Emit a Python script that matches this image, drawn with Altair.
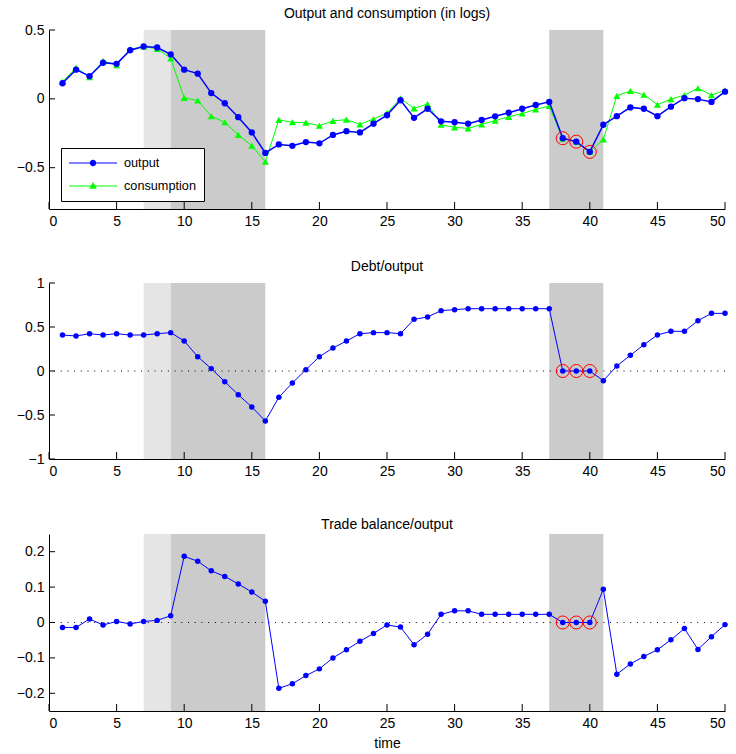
import altair as alt
import pandas as pd

# ---- data -------------------------------------------------------------
periods = list(range(1, 51))

output = [0.113, 0.212, 0.165, 0.262, 0.254, 0.353, 0.380, 0.373, 0.323, 0.212,
          0.183, 0.042, -0.032, -0.133, -0.244, -0.393, -0.331, -0.341, -0.314, -0.323,
          -0.262, -0.235, -0.244, -0.180, -0.119, -0.010, -0.138, -0.072, -0.163, -0.170,
          -0.180, -0.153, -0.127, -0.101, -0.072, -0.044, -0.022, -0.286, -0.311, -0.385,
          -0.188, -0.126, -0.062, -0.072, -0.126, -0.057, 0.005, -0.002, -0.022, 0.052]

consumption = [0.124, 0.227, 0.158, 0.276, 0.244, 0.360, 0.380, 0.363, 0.294, 0.007,
               -0.012, -0.126, -0.170, -0.262, -0.341, -0.457, -0.153, -0.170, -0.173, -0.195,
               -0.160, -0.151, -0.185, -0.146, -0.104, 0.003, -0.069, -0.037, -0.188, -0.207,
               -0.215, -0.185, -0.158, -0.131, -0.106, -0.077, -0.052, -0.290, -0.311, -0.385,
               -0.294, 0.022, 0.057, 0.030, -0.042, -0.002, 0.027, 0.077, 0.027, 0.062]

debt_output = [0.409, 0.398, 0.424, 0.409, 0.424, 0.409, 0.409, 0.424, 0.436, 0.341,
               0.163, 0.027, -0.121, -0.269, -0.409, -0.568, -0.299, -0.136, 0.015, 0.163,
               0.261, 0.341, 0.424, 0.436, 0.436, 0.424, 0.587, 0.614, 0.686, 0.697,
               0.708, 0.708, 0.708, 0.708, 0.708, 0.708, 0.708, 0.0, 0.0, 0.0,
               -0.110, 0.057, 0.178, 0.299, 0.409, 0.451, 0.451, 0.572, 0.655, 0.655]

trade_balance = [-0.014, -0.014, 0.010, -0.007, 0.003, -0.004, 0.003, 0.006, 0.019, 0.187,
                 0.173, 0.146, 0.130, 0.109, 0.086, 0.060, -0.186, -0.173, -0.150, -0.131,
                 -0.100, -0.077, -0.053, -0.031, -0.007, -0.013, -0.063, -0.033, 0.023, 0.033,
                 0.033, 0.023, 0.023, 0.023, 0.023, 0.023, 0.023, 0.0, 0.0, 0.0,
                 0.094, -0.146, -0.117, -0.096, -0.077, -0.049, -0.017, -0.076, -0.040, -0.006]

default_periods = [38, 39, 40]

light_start = [7]
light_end = [9]
dark_start = [9, 37]
dark_end = [16, 41]

series_names = ["output", "consumption"]

x_ticks = [0, 5, 10, 15, 20, 25, 30, 35, 40, 45, 50]
top_ticks = [-0.5, 0, 0.5]
mid_ticks = [-1, -0.5, 0, 0.5, 1]
bot_ticks = [-0.2, -0.1, 0, 0.1, 0.2]

# ---- style ------------------------------------------------------------
FONT = "Liberation Sans"
W = 676
BLUE = "#0000ff"
GREEN = "#00ff00"
RED = "#ff0000"
LIGHT = "#e5e5e5"
DARK = "#cbcbcb"

# legend glyphs: a short line with the marker in the middle
SYM_OUT = ("M-1,-0.022L-0.13,-0.022L-0.13,0.022L-1,0.022Z "
           "M0.13,-0.022L1,-0.022L1,0.022L0.13,0.022Z "
           "M0.135,0A0.135,0.135 0 1,1 -0.135,0A0.135,0.135 0 1,1 0.135,0Z")
SYM_CONS = ("M-1,-0.02L1,-0.02L1,0.02L-1,0.02Z "
            "M0,-0.17L0.16,0.115L-0.16,0.115Z")


def frame(values):
    return pd.DataFrame({"t": periods, "v": values})


def panel(title, height, ydomain, yticks, series, zero_line, xtitle=None, legend=False):
    xs = alt.Scale(domain=[0, 50], nice=False, zero=False)
    ys = alt.Scale(domain=ydomain, nice=False, zero=False)
    xaxis = alt.Axis(values=x_ticks, format="d", title=xtitle)
    yaxis = alt.Axis(values=yticks, format="~g", title=None)

    def X(f):
        return alt.X(f, scale=xs, axis=xaxis, title=xtitle)

    def Y(f):
        return alt.Y(f, scale=ys, axis=yaxis, title=None)

    layers = []
    light = alt.Chart(pd.DataFrame({"a": light_start, "b": light_end})).mark_rect(
        color=LIGHT).encode(x=X("a:Q"), x2="b:Q", y=alt.value(0), y2=alt.value(height))
    dark = alt.Chart(pd.DataFrame({"a": dark_start, "b": dark_end})).mark_rect(
        color=DARK).encode(x=X("a:Q"), x2="b:Q", y=alt.value(0), y2=alt.value(height))
    layers += [light, dark]

    if zero_line:
        layers.append(
            alt.Chart(pd.DataFrame({"z": [0]})).mark_rule(
                color="black", strokeWidth=1, strokeDash=[1, 5.7]
            ).encode(y=Y("z:Q"))
        )

    for values, color, shape, size, lw in series:
        df = frame(values)
        layers.append(alt.Chart(df).mark_line(color=color, strokeWidth=lw).encode(
            x=X("t:Q"), y=Y("v:Q")))
        layers.append(alt.Chart(df).mark_point(
            filled=True, shape=shape, size=size, color=color, opacity=1
        ).encode(x=X("t:Q"), y=Y("v:Q")))

    # red rings around the default periods of the main series
    main = series[-1][0]
    ring_df = pd.DataFrame({"t": default_periods,
                            "v": [main[p - 1] for p in default_periods]})
    layers.append(alt.Chart(ring_df).mark_point(
        shape="circle", size=170, color=RED, strokeWidth=1, filled=False, opacity=1
    ).encode(x=X("t:Q"), y=Y("v:Q")))

    # inward-pointing tick marks
    layers.append(alt.Chart(pd.DataFrame({"t": x_ticks})).mark_rule(
        color="black", strokeWidth=1).encode(
        x=X("t:Q"), y=alt.value(height), y2=alt.value(height - 7)))
    layers.append(alt.Chart(pd.DataFrame({"v": yticks})).mark_rule(
        color="black", strokeWidth=1).encode(
        y=Y("v:Q"), x=alt.value(0), x2=alt.value(6)))

    if legend:
        leg = alt.Legend(
            title=None, orient="none", legendX=12, legendY=118,
            strokeColor="black", fillColor="white", padding=8, cornerRadius=0,
            labelFont=FONT, labelFontSize=12.7, labelColor="black", labelOffset=7,
            symbolSize=2304, symbolStrokeWidth=0, rowPadding=9, clipHeight=14,
        )
        layers.append(
            alt.Chart(pd.DataFrame({"series": series_names}))
            .transform_filter("false")
            .mark_point(filled=True, opacity=1)
            .encode(
                x=X("t:Q"), y=Y("v:Q"),
                color=alt.Color("series:N", legend=leg,
                                scale=alt.Scale(domain=series_names, range=[BLUE, GREEN])),
                shape=alt.Shape("series:N", legend=leg,
                                scale=alt.Scale(domain=series_names, range=[SYM_OUT, SYM_CONS])),
            )
        )

    return alt.layer(*layers).properties(
        width=W, height=height,
        title=alt.TitleParams(title, offset=2),
    )


top = panel(
    "Output and consumption (in logs)", 179, [-0.8, 0.5], top_ticks,
    [(consumption, GREEN, "triangle-up", 50, 1.0), (output, BLUE, "circle", 40, 1.5)],
    zero_line=False, legend=True,
)
middle = panel(
    "Debt/output", 176, [-1, 1], mid_ticks,
    [(debt_output, BLUE, "circle", 30, 1.0)], zero_line=True,
)
bottom = panel(
    "Trade balance/output", 177, [-0.25, 0.25], bot_ticks,
    [(trade_balance, BLUE, "circle", 30, 1.0)], zero_line=True, xtitle="time",
)

upper = alt.vconcat(top, middle, spacing=32).resolve_legend(
    color="independent", shape="independent")

chart = (
    alt.vconcat(upper, bottom, spacing=40)
    .resolve_legend(color="independent", shape="independent")
    .properties(padding={"left": 16, "top": 7, "right": 2, "bottom": 2})
    .configure_view(stroke=None)
    .configure_axis(
        domainColor="black", domainWidth=1, grid=False, ticks=False, tickSize=0,
        labelFont=FONT, labelFontSize=14, labelColor="black", labelPadding=5,
        titleFont=FONT, titleFontSize=14, titleFontWeight="normal", titleColor="black",
        titlePadding=6,
    )
    .configure_axisX(titleAnchor="middle")
    .configure_title(font=FONT, fontSize=14, fontWeight="normal", color="black",
                     anchor="middle")
)

chart.save("out.html", embed_options={"renderer": "svg", "actions": False})
